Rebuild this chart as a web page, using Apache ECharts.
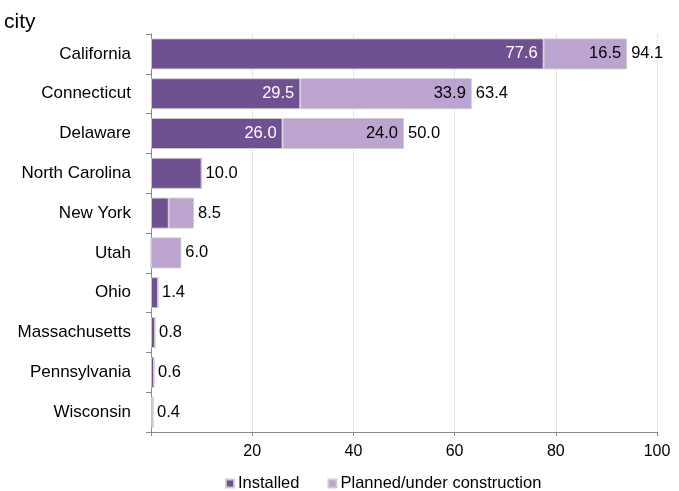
<!DOCTYPE html>
<html><head><meta charset="utf-8">
<script src="https://cdn.jsdelivr.net/npm/echarts@6/dist/echarts.min.js"></script>
<style>html,body{margin:0;padding:0;background:#fff}#c{width:679px;height:491px}</style>
</head><body><div id="c"></div>
<script>
const categories = ['California','Connecticut','Delaware','North Carolina','New York','Utah','Ohio','Massachusetts','Pennsylvania','Wisconsin'];
const installed = [77.6, 29.5, 26.0, 10.0, 3.5, 0, 1.4, 0.8, 0.6, 0.4];
const planned = [16.5, 33.9, 24.0, 0, 5.0, 6.0, 0, 0, 0, 0];
const totals = [94.1, 63.4, 50.0, 10.0, 8.5, 6.0, 1.4, 0.8, 0.6, 0.4];
const xTicks = [0, 20, 40, 60, 80, 100];

const font = 'Liberation Sans, Arial, sans-serif';
const chart = echarts.init(document.getElementById('c'));
chart.setOption({
  animation: false,
  title: { text: 'city', left: -1, top: 7, textStyle: { fontFamily: font, fontSize: 21, fontWeight: 'normal', color: '#000' } },
  grid: { left: 151, right: 22, top: 34, bottom: 59, containLabel: false },
  legend: {
    data: ['Installed', 'Planned/under construction'],
    left: 220, top: 470, itemWidth: 8, itemHeight: 8, itemGap: 28, icon: 'rect',
    textStyle: { fontFamily: font, fontSize: 16.5, color: '#000', padding: [0, 0, 0, -1] }
  },
  xAxis: {
    type: 'value', min: xTicks[0], max: xTicks[xTicks.length - 1], interval: 20,
    axisLine: { show: true, lineStyle: { color: '#888' } },
    axisTick: { show: true, length: 4, lineStyle: { color: '#888' } },
    splitLine: { show: true, lineStyle: { color: '#cfcfcf', type: 'dotted' } },
    axisLabel: { margin: 12, fontFamily: font, fontSize: 16, color: '#000', formatter: v => v === 0 ? '' : String(v) }
  },
  yAxis: {
    type: 'category', data: categories, inverse: true,
    axisLine: { show: true, lineStyle: { color: '#888' } },
    axisTick: { show: true, length: 5, lineStyle: { color: '#888' } },
    axisLabel: { margin: 20, fontFamily: font, fontSize: 17, color: '#000' }
  },
  series: [
    {
      name: 'Installed', type: 'bar', stack: 's', data: installed, barWidth: 31,
      itemStyle: { color: '#6f5091', borderColor: 'rgba(205,205,205,0.9)', borderWidth: 1 },
      label: { show: true, position: 'insideRight', color: '#fff', fontFamily: font, fontSize: 16.5, distance: 6,
        formatter: p => p.value >= 15 ? p.value.toFixed(1) : '' }
    },
    {
      name: 'Planned/under construction', type: 'bar', stack: 's', data: planned, barWidth: 31,
      itemStyle: { color: '#bba5d0', borderColor: 'rgba(205,205,205,0.9)', borderWidth: 1 },
      label: { show: true, position: 'insideRight', color: '#000', fontFamily: font, fontSize: 16.5, distance: 6,
        formatter: p => p.value >= 15 ? p.value.toFixed(1) : '' }
    },
    {
      name: 'total', type: 'bar', data: totals, barWidth: 31, barGap: '-100%', z: 1,
      itemStyle: { color: 'rgba(0,0,0,0)' }, silent: true,
      label: { show: true, position: 'right', distance: 4, color: '#000', fontFamily: font, fontSize: 16.5,
        formatter: p => p.value.toFixed(1) }
    }
  ]
});
</script></body></html>
